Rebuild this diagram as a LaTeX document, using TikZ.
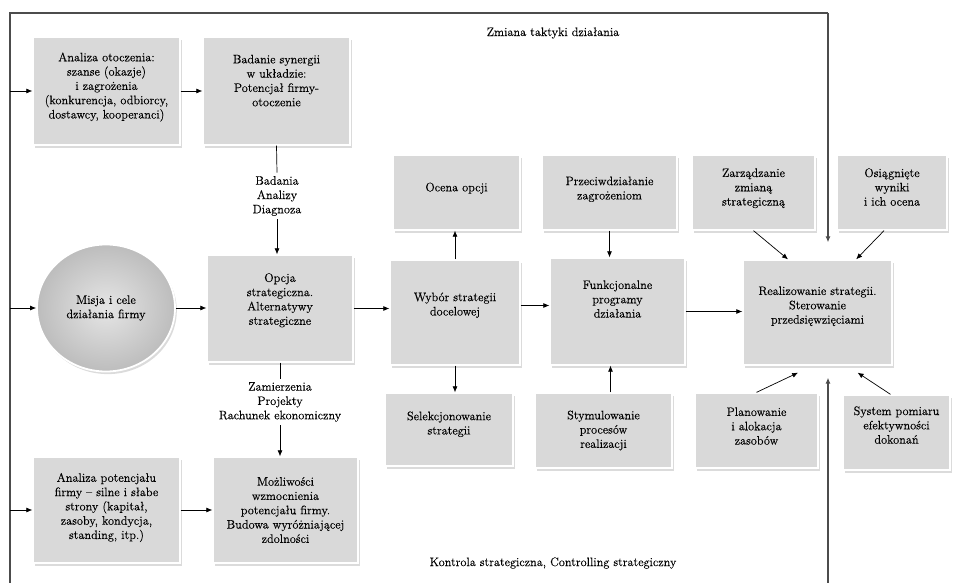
\documentclass[tikz,border=0pt]{standalone}
\usepackage{fontspec}
\setmainfont{Latin Modern Roman}[FakeBold=0.3]
\usetikzlibrary{arrows.meta,shapes.geometric,shadows}
\begin{document}
\begin{tikzpicture}[x=1pt,y=-1pt,>={Latex[length=6pt,width=5pt]}]
\tikzset{
    stratBox/.style={rectangle,fill=black!15,draw=white,line width=1.3pt,align=center,
        font=\fontsize{12.3}{14.3}\selectfont,inner sep=2pt,
        drop shadow={shadow xshift=1.8pt,shadow yshift=-2.6pt,fill=black!40,opacity=0.35}},
    stratOval/.style={ellipse,draw=white,line width=1.8pt,inner color=black!10,outer color=black!26,
        align=center,font=\fontsize{12.3}{14.3}\selectfont,
        drop shadow={shadow xshift=1.8pt,shadow yshift=-2.6pt,fill=black!40,opacity=0.35}},
    stratLift/.style={text depth=#1},
    stratLine/.style={draw=black,line width=0.7pt},
    stratFrame/.style={draw=black!70,line width=1.1pt},
    stratLabel/.style={align=center,font=\fontsize{12.3}{14.3}\selectfont},
}
\useasboundingbox (0,0) rectangle (953,583);

% ramka
\coordinate (frameTL) at (10,13);
\coordinate (frameTR) at (828,13);
\coordinate (frameBL) at (10,583);
\coordinate (frameBR) at (828,583);

\node[stratLabel] (zmiana) at (553,33) {Zmiana taktyki działania};
\node[stratLabel] (kontrola) at (553,563) {Kontrola strategiczna, Controlling strategiczny};

% analiza
\node[stratBox,minimum width=147,minimum height=108,stratLift=11pt] (otocz) at (106.5,91) {Analiza otoczenia:\\szanse (okazje)\\i zagrożenia\\(konkurencja, odbiorcy,\\dostawcy, kooperanci)};
\node[stratBox,minimum width=147,minimum height=108,stratLift=21pt] (synerg) at (276.5,91) {Badanie synergii\\w układzie:\\Potencjał firmy-\\otoczenie};
\node[stratOval,minimum width=138,minimum height=127] (misja) at (106,308) {Misja i cele\\działania firmy};
\node[stratBox,minimum width=146,minimum height=107,stratLift=19pt] (opcja) at (280,308.5) {Opcja\\strategiczna.\\Alternatywy\\strategiczne};
\node[stratBox,minimum width=147,minimum height=106,stratLift=8pt] (potenc) at (106.5,510) {Analiza potencjału\\firmy – silne i słabe\\strony (kapitał,\\zasoby, kondycja,\\standing, itp.)};
\node[stratBox,minimum width=145,minimum height=106] (mozliw) at (285.5,510) {Możliwości\\wzmocnienia\\potencjału firmy.\\Budowa wyróżniającej\\zdolności};
\node[stratLabel] (badania) at (277,196) {Badania\\Analizy\\Diagnoza};
\node[stratLabel] (zamierz) at (280,402) {Zamierzenia\\Projekty\\Rachunek ekonomiczny};

% wybor i programy
\node[stratBox,minimum width=130,minimum height=105,stratLift=17pt] (wybor) at (455,312.5) {Wybór strategii\\docelowej};
\node[stratBox,minimum width=127,minimum height=75,stratLift=11pt] (ocena) at (456.5,192.5) {Ocena opcji};
\node[stratBox,minimum width=128,minimum height=73,stratLift=13pt] (selek) at (449,429.5) {Selekcjonowanie\\strategii};
\node[stratBox,minimum width=135,minimum height=75,stratLift=9pt] (przeciw) at (609.5,192.5) {Przeciwdziałanie\\zagrożeniom};
\node[stratBox,minimum width=135,minimum height=107,stratLift=25pt] (funkc) at (617.5,311.5) {Funkcjonalne\\programy\\działania};
\node[stratBox,minimum width=137,minimum height=75] (stymul) at (603.5,430.5) {Stymulowanie\\procesów\\realizacji};

% realizacja
\node[stratBox,minimum width=123,minimum height=75,stratLift=11pt] (zarz) at (753.5,192.5) {Zarządzanie\\zmianą\\strategiczną};
\node[stratBox,minimum width=110,minimum height=75,stratLift=11pt] (osiag) at (892,192.5) {Osiągnięte\\wyniki\\i ich ocena};
\node[stratBox,minimum width=149,minimum height=105,stratLift=15pt] (real) at (817.5,312.5) {Realizowanie strategii.\\Sterowanie\\przedsięwzięciami};
\node[stratBox,minimum width=123,minimum height=75,stratLift=9pt] (plan) at (756.5,430.5) {Planowanie\\i alokacja\\zasobów};
\node[stratBox,minimum width=107,minimum height=75,stratLift=15pt] (system) at (896.5,432.5) {System pomiaru\\efektywności\\dokonań};

% polaczenia
\draw[stratFrame] (frameBL) -- (frameTL) -- (frameTR);
\draw[stratFrame,->,shorten >=17pt] (frameTR) -- (frameTR |- real.north);
\draw[stratFrame,->,shorten >=12pt] (frameBR) -- (frameBR |- real.south);
\draw[stratLine,->] (frameTL |- otocz.west) -- (otocz.west);
\draw[stratLine,->] (frameTL |- misja.west) -- (misja.west);
\draw[stratLine,->] (frameTL |- potenc.west) -- (potenc.west);

\draw[stratLine,->] (otocz) -- (synerg);
\draw[stratLine,->] (potenc) -- (mozliw);
\draw[stratLine,->] (misja) -- (misja -| opcja.west);
\draw[stratLine] (synerg.south) -- (badania.north);
\draw[stratLine,->] (badania.south) -- (badania.south |- opcja.north);
\draw[stratLine] (opcja.south) -- (zamierz.north);
\draw[stratLine,->] (zamierz.south) -- (zamierz.south |- mozliw.north);

\draw[stratLine,->] (opcja.east) -- (opcja.east -| wybor.west);
\draw[stratLine,->] ([yshift=7pt]wybor.east) -- ([yshift=7pt]wybor.east -| funkc.west);
\draw[stratLine,->] (funkc.east) -- (funkc.east -| real.west);
\draw[stratLine,->] (wybor.north) -- (wybor.north |- ocena.south);
\draw[stratLine,->] (wybor.south) -- (wybor.south |- selek.north);
\draw[stratLine,->] (przeciw.south) -- (przeciw.south |- funkc.north);
\draw[stratLine,->] ([xshift=7pt]stymul.north) -- ([xshift=7pt]stymul.north |- funkc.south);

\draw[stratLine,->] (zarz.south) -- (real.119);
\draw[stratLine,->] ([xshift=-8pt]osiag.south) -- (real.54);
\draw[stratLine,->] (plan.north) -- ([yshift=-7pt]real.250);
\draw[stratLine,->] ([xshift=-6pt]system.north) -- ([yshift=-7pt]real.307);
\end{tikzpicture}
\end{document}
